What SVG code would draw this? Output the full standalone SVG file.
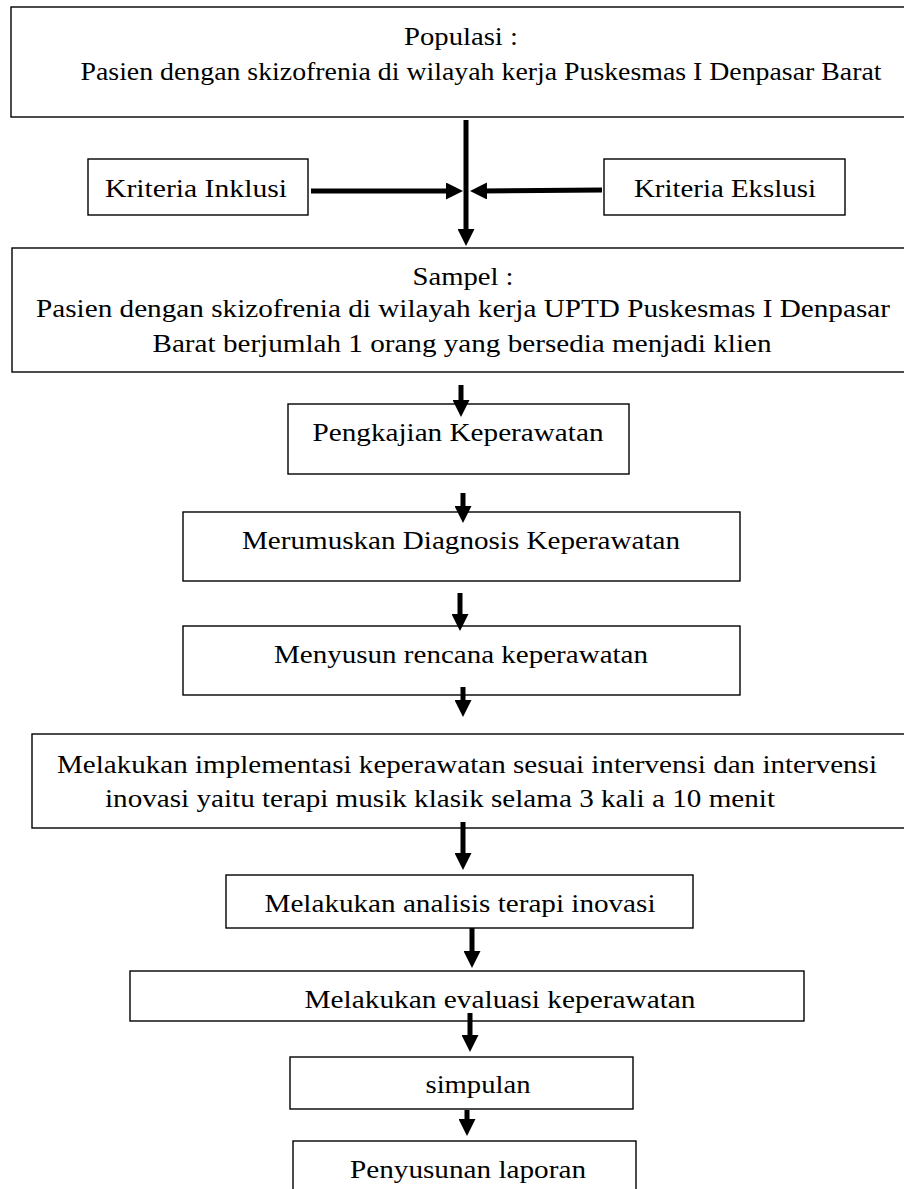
<svg xmlns="http://www.w3.org/2000/svg" width="904" height="1189" viewBox="0 0 904 1189">
<defs>
<style>
.box{fill:#fff;stroke:#000;stroke-width:1.4}
.t{font-family:"Liberation Serif","Times New Roman",serif;font-size:25px;fill:#000;text-anchor:middle}
.c{stroke:#000;stroke-width:5;fill:none}
</style>
<marker id="ah" markerUnits="userSpaceOnUse" viewBox="0 0 17 17" refX="7" refY="8.5" markerWidth="17" markerHeight="17" orient="auto">
<path d="M0,0 L17,8.5 L0,17 Z" fill="#000"/>
</marker>
</defs>
<rect width="904" height="1189" fill="#fff"/>
<g id="populasi">
<rect class="box" x="11" y="7" width="920" height="110"/>
<text class="t" x="461" y="45" textLength="114" lengthAdjust="spacingAndGlyphs">Populasi :</text>
<text class="t" x="481" y="80" textLength="801" lengthAdjust="spacingAndGlyphs">Pasien dengan skizofrenia di wilayah kerja Puskesmas I Denpasar Barat</text>
</g>
<g id="inklusi">
<rect class="box" x="88" y="159" width="220" height="56"/>
<text class="t" x="196" y="197" textLength="182" lengthAdjust="spacingAndGlyphs">Kriteria Inklusi</text>
</g>
<g id="ekslusi">
<rect class="box" x="604" y="159" width="241" height="56"/>
<text class="t" x="725" y="197" textLength="182" lengthAdjust="spacingAndGlyphs">Kriteria Ekslusi</text>
</g>
<g id="sampel">
<rect class="box" x="12" y="248" width="920" height="124"/>
<text class="t" x="463" y="285" textLength="101" lengthAdjust="spacingAndGlyphs">Sampel :</text>
<text class="t" x="463" y="317" textLength="854" lengthAdjust="spacingAndGlyphs">Pasien dengan skizofrenia di wilayah kerja UPTD Puskesmas I Denpasar</text>
<text class="t" x="462" y="352" textLength="619" lengthAdjust="spacingAndGlyphs">Barat berjumlah 1 orang yang bersedia menjadi klien</text>
</g>
<g id="pengkajian">
<rect class="box" x="288" y="404" width="341" height="70"/>
<text class="t" x="458" y="441" textLength="291" lengthAdjust="spacingAndGlyphs">Pengkajian Keperawatan</text>
</g>
<g id="diagnosis">
<rect class="box" x="183" y="512" width="557" height="69"/>
<text class="t" x="461" y="549" textLength="438" lengthAdjust="spacingAndGlyphs">Merumuskan Diagnosis Keperawatan</text>
</g>
<g id="rencana">
<rect class="box" x="183" y="626" width="557" height="69"/>
<text class="t" x="461" y="663" textLength="374" lengthAdjust="spacingAndGlyphs">Menyusun rencana keperawatan</text>
</g>
<g id="implementasi">
<rect class="box" x="32" y="734" width="900" height="94"/>
<text class="t" x="467" y="773" textLength="820" lengthAdjust="spacingAndGlyphs">Melakukan implementasi keperawatan sesuai intervensi dan intervensi</text>
<text class="t" x="440" y="807" textLength="670" lengthAdjust="spacingAndGlyphs">inovasi yaitu terapi musik klasik selama 3 kali a 10 menit</text>
</g>
<g id="analisis">
<rect class="box" x="226" y="875" width="467" height="53"/>
<text class="t" x="460" y="912" textLength="391" lengthAdjust="spacingAndGlyphs">Melakukan analisis terapi inovasi</text>
</g>
<g id="evaluasi">
<rect class="box" x="130" y="971" width="674" height="50"/>
<text class="t" x="500" y="1008" textLength="391" lengthAdjust="spacingAndGlyphs">Melakukan evaluasi keperawatan</text>
</g>
<g id="simpulan">
<rect class="box" x="290" y="1057" width="343" height="52"/>
<text class="t" x="478" y="1093" textLength="105" lengthAdjust="spacingAndGlyphs">simpulan</text>
</g>
<g id="laporan">
<rect class="box" x="293" y="1141" width="343" height="70"/>
<text class="t" x="468" y="1178" textLength="236" lengthAdjust="spacingAndGlyphs">Penyusunan laporan</text>
</g>
<g id="connectors">
<line class="c" x1="466" y1="120" x2="466" y2="236" marker-end="url(#ah)"/>
<line class="c" x1="311" y1="191" x2="453" y2="191" marker-end="url(#ah)"/>
<line class="c" x1="602" y1="190" x2="480" y2="191" marker-end="url(#ah)"/>
<line class="c" x1="461" y1="385" x2="461" y2="407" marker-end="url(#ah)"/>
<line class="c" x1="463" y1="493" x2="463" y2="513" marker-end="url(#ah)"/>
<line class="c" x1="460" y1="593" x2="460" y2="621" marker-end="url(#ah)"/>
<line class="c" x1="463" y1="687" x2="463" y2="707" marker-end="url(#ah)"/>
<line class="c" x1="463" y1="822" x2="463" y2="860" marker-end="url(#ah)"/>
<line class="c" x1="472" y1="928" x2="472" y2="958" marker-end="url(#ah)"/>
<line class="c" x1="470" y1="1013" x2="470" y2="1042" marker-end="url(#ah)"/>
<line class="c" x1="467" y1="1110" x2="467" y2="1126" marker-end="url(#ah)"/>
</g>
</svg>
